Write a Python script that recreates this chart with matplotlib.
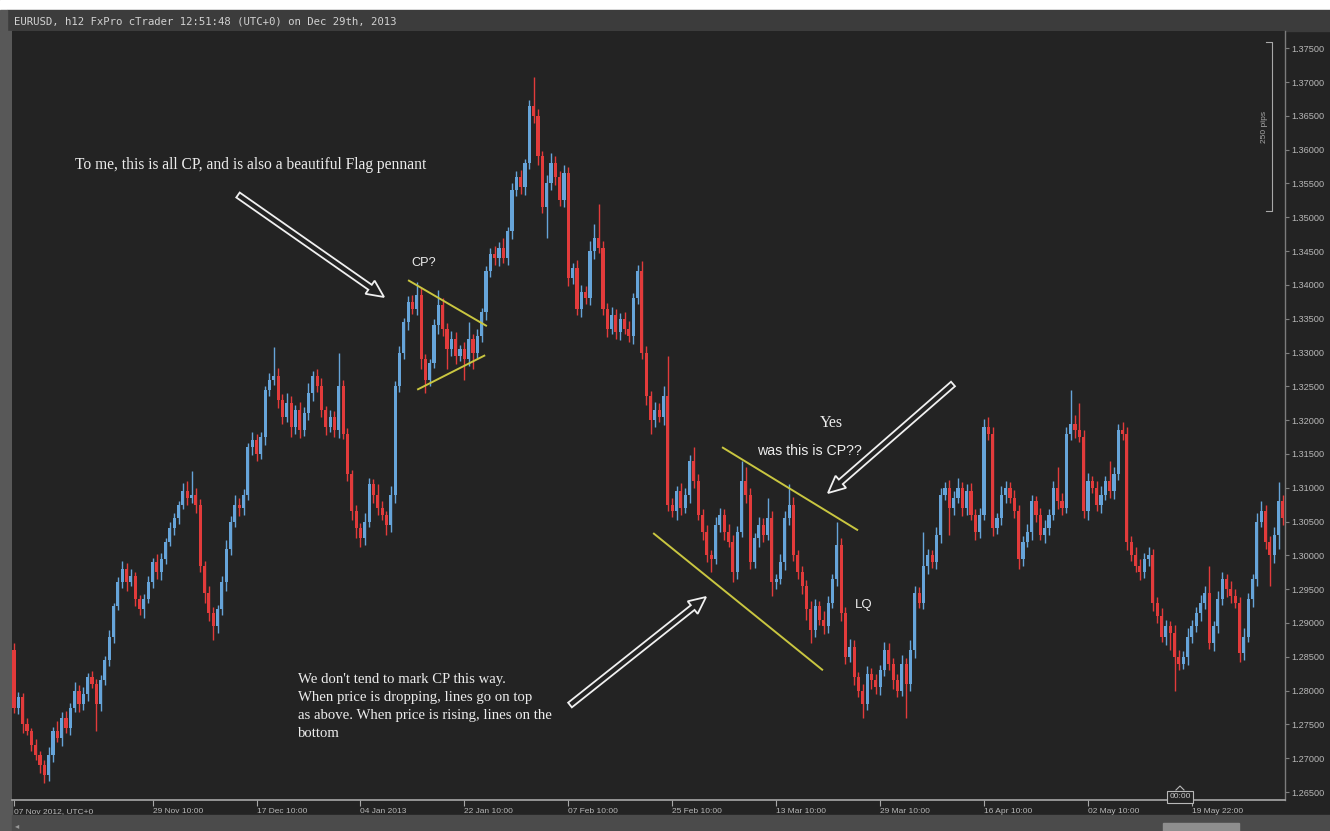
import numpy as np
import matplotlib
matplotlib.use("Agg")
import matplotlib.pyplot as plt
from matplotlib.patches import Rectangle, Polygon

# ---------------- data (prices in pips above 1.0000) ----------------
first_open = 2860
closes = [
    2775, 2790, 2750, 2740, 2720, 2705, 2690, 2675, 2705, 2740, 2730, 2760, 2745, 2775, 2800, 2780, 2795, 2820, 2810, 2780,
    2815, 2845, 2880, 2925, 2960, 2980, 2960, 2970, 2935, 2920, 2935, 2960, 2990, 2975, 2995, 3020, 3040, 3055, 3075, 3095,
    3085, 3090, 3075, 2985, 2945, 2915, 2895, 2920, 2960, 3010, 3050, 3075, 3070, 3090, 3160, 3170, 3150, 3175, 3245, 3260,
    3265, 3230, 3205, 3225, 3190, 3215, 3185, 3210, 3240, 3265, 3250, 3215, 3190, 3205, 3185, 3250, 3180, 3120, 3065, 3040,
    3025, 3050, 3105, 3090, 3070, 3060, 3045, 3090, 3250, 3300, 3345, 3375, 3365, 3385, 3290, 3260, 3285, 3340, 3370, 3335,
    3305, 3320, 3295, 3305, 3290, 3320, 3300, 3325, 3360, 3420, 3445, 3440, 3455, 3440, 3480, 3540, 3560, 3545, 3580, 3665,
    3650, 3590, 3515, 3550, 3580, 3560, 3525, 3565, 3410, 3425, 3365, 3390, 3380, 3450, 3470, 3455, 3365, 3335, 3355, 3330,
    3350, 3335, 3325, 3380, 3420, 3300, 3235, 3200, 3215, 3205, 3235, 3075, 3065, 3095, 3070, 3090, 3140, 3110, 3060, 3035,
    3000, 2995, 3045, 3060, 3035, 3020, 2975, 3035, 3110, 3090, 2990, 3025, 3045, 3030, 3055, 2960, 2965, 2990, 3055, 3075,
    3000, 2975, 2955, 2920, 2890, 2925, 2905, 2895, 2930, 2965, 3015, 2915, 2850, 2865, 2820, 2800, 2780, 2825, 2815, 2805,
    2830, 2860, 2840, 2815, 2800, 2840, 2810, 2860, 2945, 2930, 2985, 3000, 2990, 3030, 3090, 3100, 3070, 3085, 3100, 3070,
    3095, 3060, 3035, 3060, 3190, 3180, 3040, 3055, 3090, 3100, 3085, 3065, 2995, 3020, 3035, 3080, 3060, 3030, 3040, 3060,
    3100, 3080, 3070, 3180, 3195, 3185, 3175, 3065, 3110, 3100, 3075, 3090, 3110, 3095, 3120, 3185, 3180, 3020, 3000, 2985,
    2975, 2995, 3000, 2930, 2910, 2880, 2895, 2885, 2850, 2840, 2850, 2880, 2895, 2915, 2930, 2945, 2870, 2895, 2935, 2965,
    2950, 2940, 2930, 2855, 2880, 2935, 2965, 3050, 3065, 3020, 3000, 3030, 3080, 3055,
]
# upper / lower wick lengths in pips
wick_up = [
    10, 8, 6, 10, 5, 8, 6, 7, 12, 6, 15, 8, 10, 6, 12, 8, 10, 6, 9, 7,
    8, 6, 10, 5, 8, 12, 8, 10, 6, 7, 8, 10, 6, 12, 8, 6, 10, 8, 6, 12,
    15, 35, 10, 8, 6, 10, 8, 6, 10, 12, 8, 15, 10, 8, 6, 12, 10, 8, 6, 10,
    43, 12, 8, 15, 10, 8, 12, 10, 15, 8, 10, 12, 6, 10, 8, 50, 10, 8, 6, 10,
    8, 12, 10, 8, 15, 10, 6, 12, 8, 10, 6, 8, 10, 20, 12, 8, 6, 10, 22, 10,
    8, 12, 10, 6, 10, 25, 8, 10, 6, 8, 10, 12, 8, 15, 6, 10, 8, 10, 6, 8,
    42, 10, 8, 12, 15, 10, 8, 12, 10, 8, 12, 10, 8, 15, 20, 50, 10, 8, 12, 10,
    8, 10, 12, 8, 10, 15, 10, 8, 12, 10, 15, 60, 10, 8, 12, 10, 8, 20, 10, 8,
    10, 8, 12, 10, 8, 12, 10, 8, 30, 20, 10, 8, 12, 10, 30, 10, 8, 12, 10, 30,
    12, 8, 10, 8, 12, 10, 8, 12, 10, 8, 35, 10, 8, 12, 10, 8, 10, 12, 8, 10,
    8, 12, 10, 8, 10, 12, 8, 15, 10, 8, 50, 10, 8, 12, 10, 8, 12, 10, 15, 8,
    10, 12, 8, 10, 12, 15, 10, 8, 12, 10, 8, 12, 10, 8, 12, 10, 8, 10, 12, 8,
    10, 30, 12, 10, 50, 12, 40, 10, 12, 8, 10, 12, 8, 30, 10, 10, 12, 10, 8, 12,
    10, 8, 12, 10, 8, 12, 10, 8, 12, 10, 8, 12, 10, 8, 12, 10, 40, 8, 12, 10,
    8, 12, 10, 8, 12, 10, 8, 12, 15, 10, 8, 12, 28, 10,
]
wick_dn = [
    8, 10, 12, 6, 10, 8, 12, 12, 8, 10, 6, 12, 8, 10, 6, 12, 8, 10, 6, 40,
    10, 6, 8, 10, 6, 8, 12, 6, 10, 8, 12, 6, 8, 10, 12, 8, 6, 10, 8, 6,
    10, 8, 12, 10, 15, 12, 20, 10, 8, 12, 10, 8, 12, 10, 8, 12, 10, 8, 12, 10,
    8, 12, 10, 8, 15, 10, 12, 8, 10, 12, 8, 10, 12, 8, 10, 12, 8, 10, 12, 15,
    12, 10, 8, 12, 10, 8, 15, 10, 12, 8, 10, 12, 8, 10, 15, 20, 10, 8, 12, 10,
    30, 10, 12, 8, 30, 10, 25, 8, 10, 12, 8, 10, 12, 8, 10, 12, 8, 10, 12, 8,
    10, 12, 8, 45, 10, 12, 8, 10, 12, 8, 10, 12, 8, 10, 12, 8, 10, 12, 8, 10,
    12, 8, 10, 12, 8, 10, 12, 20, 10, 8, 12, 10, 8, 12, 10, 8, 12, 10, 8, 12,
    10, 20, 8, 10, 12, 8, 15, 10, 8, 12, 10, 8, 12, 10, 8, 20, 10, 8, 12, 10,
    8, 10, 12, 15, 20, 10, 8, 12, 10, 8, 10, 12, 10, 8, 12, 10, 20, 8, 12, 10,
    12, 8, 10, 12, 10, 8, 50, 10, 12, 8, 10, 12, 8, 10, 12, 8, 40, 10, 8, 12,
    10, 8, 12, 10, 8, 10, 12, 8, 10, 12, 8, 10, 15, 10, 8, 12, 10, 8, 12, 10,
    8, 12, 10, 8, 10, 12, 8, 10, 12, 8, 10, 12, 8, 10, 12, 8, 10, 12, 8, 10,
    12, 8, 10, 12, 10, 8, 12, 25, 50, 10, 8, 12, 10, 8, 12, 10, 8, 12, 10, 8,
    12, 10, 8, 12, 10, 8, 12, 10, 8, 10, 45, 12, 20, 10,
]
assert len(closes) == len(wick_up) == len(wick_dn)

tick_idx = [0, 32, 56, 80, 104, 128, 152, 176, 200, 224, 248, 272]
tick_labels = ["07 Nov 2012, UTC+0", "29 Nov 10:00", "17 Dec 10:00", "04 Jan 2013",
               "22 Jan 10:00", "07 Feb 10:00", "25 Feb 10:00", "13 Mar 10:00",
               "29 Mar 10:00", "16 Apr 10:00", "02 May 10:00", "19 May 22:00"]
price_ticks = [1.265 + 0.005 * k for k in range(23)]

# trend lines drawn on the chart: (candle index, price in pips)
pennant_top = [(91.0, 3407), (109.2, 3339)]
pennant_bot = [(93.1, 3245), (108.8, 3296)]
channel_top = [(163.5, 3160), (194.9, 3037)]
channel_bot = [(147.6, 3033), (186.8, 2830)]

title = "EURUSD, h12 FxPro cTrader 12:51:48 (UTC+0) on Dec 29th, 2013"

# ---------------- derived OHLC ----------------
to_px = lambda v: 1.0 + np.asarray(v, dtype=float) / 10000.0
c = np.array(closes, dtype=float)
o = np.concatenate([[first_open], c[:-1]])
top = np.maximum(o, c) + np.array(wick_up)
bot = np.minimum(o, c) - np.array(wick_dn)
idx = np.arange(len(c))
up = c >= o

BLUE = '#66a4d9'
RED = '#e23b3b'
BG = '#232323'

W, H = 1330, 831
fig = plt.figure(figsize=(W / 100, H / 100), dpi=100)
fig.patch.set_facecolor(BG)

# window chrome (pixel coordinates)
chrome = fig.add_axes([0, 0, 1, 1], zorder=0)
chrome.set_xlim(0, W)
chrome.set_ylim(H, 0)
chrome.axis('off')
chrome.add_patch(Rectangle((0, 0), W, 10, color='white'))
chrome.add_patch(Rectangle((7, 10), W - 7, 21, color='#3c3c3c'))
chrome.add_patch(Rectangle((0, 31), 12, H - 31, color='#585858'))
chrome.add_patch(Rectangle((0, 10), 7, 21, color='#585858'))
chrome.add_patch(Rectangle((12, 815), W - 12, 16, color='#4b4b4b'))
chrome.add_patch(Rectangle((1163, 823), 76, 8, color='#8e8e8e'))
chrome.text(14, 21, title, fontsize=7.7, family='DejaVu Sans Mono', color='#d2d2d2',
            va='center', ha='left')
chrome.text(15, 826, "\u25c2", fontsize=6, color='#9a9a9a', va='center', ha='left')

# price chart
ax = fig.add_axes([12 / W, (H - 800) / H, (1285 - 12) / W, (800 - 31) / H], zorder=1)
ax.set_facecolor(BG)
col = np.where(up, BLUE, RED)
ax.vlines(idx, to_px(bot), to_px(top), colors=col, linewidth=1.0, zorder=2)
body_lo = to_px(np.minimum(o, c))
body_h = np.maximum(to_px(np.maximum(o, c)) - body_lo, 0.00018)
ax.bar(idx, body_h, bottom=body_lo, width=0.72, color=col, linewidth=0, zorder=3)

for line in (pennant_top, pennant_bot, channel_top, channel_bot):
    xs = [p[0] for p in line]
    ys = to_px([p[1] for p in line])
    ax.plot(xs, ys, color='#c9c640', lw=1.4, zorder=4, solid_capstyle='butt')

ax.set_xlim(-0.46, 293.5)
ax.set_ylim(1.26382, 1.37755)
ax.set_yticks(price_ticks)
ax.set_yticklabels([f"{p:.5f}" for p in price_ticks])
ax.yaxis.tick_right()
ax.set_xticks(tick_idx)
ax.set_xticklabels(tick_labels)
for lab in ax.get_xticklabels():
    lab.set_ha('left')
for s in ('top', 'left'):
    ax.spines[s].set_visible(False)
ax.spines['bottom'].set_color('#a8a8a8')
ax.spines['bottom'].set_linewidth(1.2)
ax.spines['right'].set_color('#7c7c7c')
ax.spines['right'].set_linewidth(1.0)
ax.tick_params(axis='y', colors='#808080', length=3, width=0.8, labelsize=6.6,
               labelcolor='#b8b8b8', pad=1.5)
ax.tick_params(axis='x', colors='#a8a8a8', length=4, width=0.8, labelsize=6.0,
               labelcolor='#b8b8b8', pad=2)
for lab in ax.get_xticklabels() + ax.get_yticklabels():
    lab.set_family('Liberation Sans')

# annotations overlay (pixel coordinates)
ov = fig.add_axes([0, 0, 1, 1], zorder=5)
ov.set_xlim(0, W)
ov.set_ylim(H, 0)
ov.axis('off')
ov.patch.set_alpha(0)


def hollow_arrow(x0, y0, x1, y1, shaft=6.0, head_w=16.0, head_l=17.0):
    p0 = np.array([x0, y0], float)
    p1 = np.array([x1, y1], float)
    d = (p1 - p0) / np.hypot(*(p1 - p0))
    n = np.array([-d[1], d[0]])
    neck = p1 - d * head_l
    pts = [p0 + n * shaft / 2, neck + n * shaft / 2, neck + n * head_w / 2, p1,
           neck - n * head_w / 2, neck - n * shaft / 2, p0 - n * shaft / 2]
    ov.add_patch(Polygon(pts, closed=True, facecolor=BG, edgecolor='#f0f0f0', lw=1.3))


hollow_arrow(238, 195, 384, 297)
hollow_arrow(953, 384, 828, 493)
hollow_arrow(570, 705, 706, 597)

WHITE = '#ececec'
ov.text(75, 165, "To me, this is all CP, and is also a beautiful Flag pennant",
        family='Liberation Serif', fontsize=11.2, color=WHITE, va='center', ha='left')
ov.text(411, 263, "CP?", family='Liberation Sans', fontsize=9.2, color=WHITE,
        va='center', ha='left')
ov.text(820, 423, "Yes", family='Liberation Serif', fontsize=11.5, color=WHITE,
        va='center', ha='left')
ov.text(757, 451, "was this is CP??", family='Liberation Sans', fontsize=10.2,
        color=WHITE, va='center', ha='left')
ov.text(855, 605, "LQ", family='Liberation Sans', fontsize=9.5, color=WHITE,
        va='center', ha='left')
ov.text(298, 673, "We don't tend to mark CP this way.\nWhen price is dropping, lines go on top\n"
                  "as above. When price is rising, lines on the\nbottom",
        family='Liberation Serif', fontsize=10.6, color=WHITE, va='top', ha='left',
        linespacing=1.5)

# 250 pips ruler
ov.plot([1266, 1272, 1272, 1266], [42, 42, 211, 211], color='#a8a8a8', lw=0.8)
ov.text(1264, 127, "250 pips", rotation=90, fontsize=6, family='Liberation Sans',
        color='#a8a8a8', va='center', ha='center')

# crosshair time marker on the time axis
ov.text(1180, 797, "00:00", fontsize=6, family='Liberation Sans', color='#c8c8c8',
        va='center', ha='center',
        bbox=dict(boxstyle='square,pad=0.25', fc=BG, ec='#b8b8b8', lw=0.8))
ov.plot([1176, 1180, 1184], [790, 786, 790], color='#b8b8b8', lw=0.8)

fig.savefig('out.png', dpi=100, facecolor=fig.get_facecolor())
